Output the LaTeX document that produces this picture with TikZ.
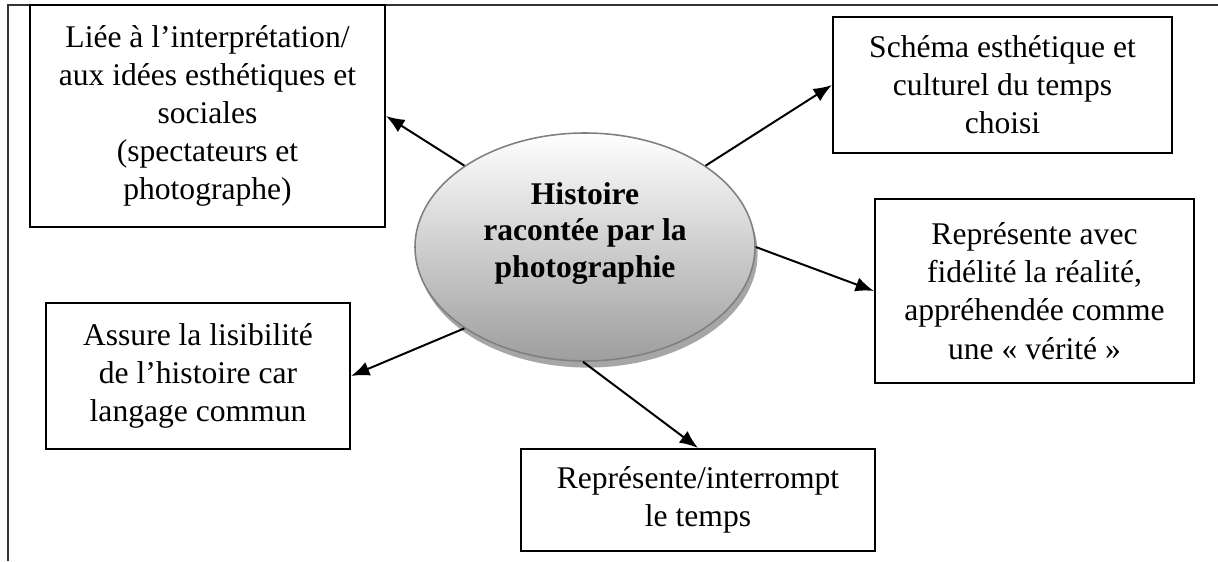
\documentclass[tikz,border=0pt]{standalone}
\usepackage{fontspec}
\setmainfont{Liberation Serif}
\usepackage{tikz}
\usetikzlibrary{arrows.meta,shapes.geometric,shadows}

\begin{document}
\begin{tikzpicture}[
  x=0.38pt, y=-0.38pt,
  box/.style={draw=black, line width=0.8pt, align=center, inner sep=0pt,
    font=\fontsize{12}{14.5}\selectfont},
  hub/.style={ellipse, draw=black!50, line width=0.6pt,
    top color=white, bottom color=black!38,
    drop shadow={shadow xshift=1pt, shadow yshift=-2.5pt, fill=black!35, opacity=1},
    align=center, inner sep=0pt, text depth=13pt,
    font=\fontsize{12}{14}\selectfont\bfseries},
  link/.style={-{Latex[length=7pt, width=5.5pt]}, line width=0.75pt},
  pageframe/.style={draw=black!80, line width=0.8pt},
]
% Coordinate system: 1 unit = 1 px of the 1218 x 561 page, y grows downwards.
\def\pxu{0.38pt}   % size of one unit, for node sizes
\useasboundingbox (0,0) rectangle (1218,561);

% Page frame (only top and left rule visible)
\draw[pageframe] (8,561) -- (8,5) -- (1218,5);

% ─── Central ellipse ──────────────────────────────────────────────────────
\node[hub, minimum width=340*\pxu, minimum height=228*\pxu] (hist) at (585,247)
    {Histoire\\racontée par la\\photographie};

% ─── Boxes ────────────────────────────────────────────────────────────────
\node[box, minimum width=355*\pxu, minimum height=222*\pxu] (lie) at (207.5,116)
    {Liée à l’interprétation/\\aux idées esthétiques et\\sociales\\(spectateurs et\\photographe)};
\node[box, minimum width=339*\pxu, minimum height=136*\pxu] (schema) at (1002.5,85)
    {Schéma esthétique et\\culturel du temps\\choisi};
\node[box, minimum width=319*\pxu, minimum height=184*\pxu] (fidel) at (1034.5,291)
    {Représente avec\\fidélité la réalité,\\appréhendée comme\\une «~vérité~»};
\node[box, minimum width=304*\pxu, minimum height=146*\pxu] (assure) at (198,376)
    {Assure la lisibilité\\de l’histoire car\\langage commun};
\node[box, minimum width=354*\pxu, minimum height=102*\pxu] (temps) at (698,500)
    {Représente/interrompt\\le temps};

% ─── Arrows from the ellipse ──────────────────────────────────────────────
\draw[link] (hist.146) -- (lie.east);
\draw[link] (hist.34)  -- (schema.west);
\draw[link] (hist.0)   -- (fidel.west);
\draw[link] (hist.214) -- (assure.east);
\draw[link] (hist.269) -- (temps.north);

\end{tikzpicture}
\end{document}
